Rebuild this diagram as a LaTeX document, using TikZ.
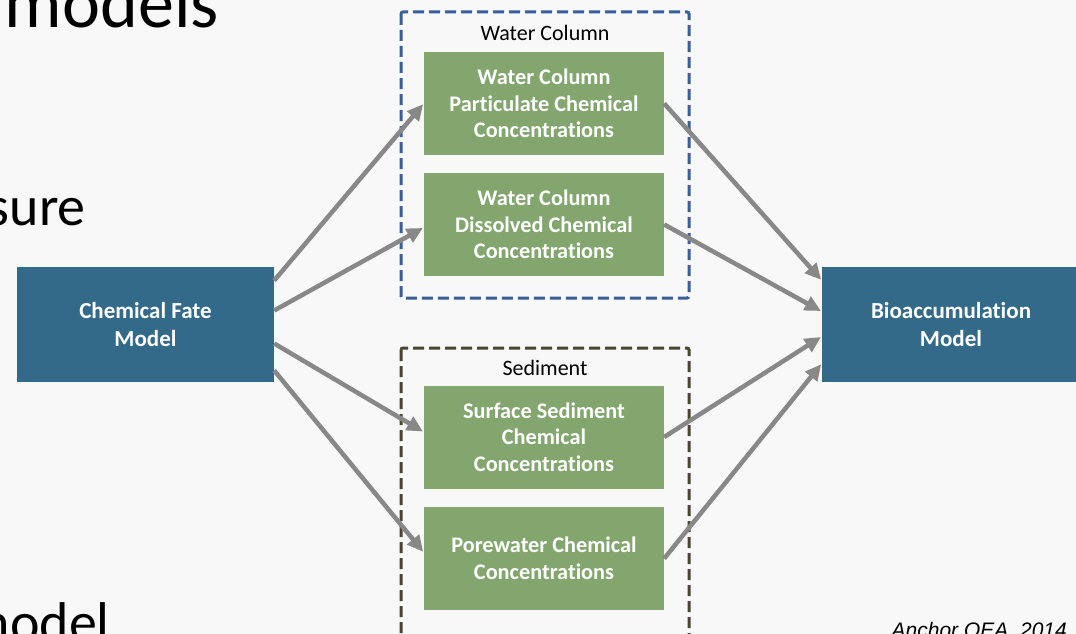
\documentclass[tikz,border=0pt]{standalone}
\usepackage{fontspec}
\setmainfont{Carlito}[Ligatures=NoCommon]
\newfontfamily\citefont{Liberation Sans}
\usetikzlibrary{arrows.meta,calc}

\definecolor{pagebg}{HTML}{F8F8F8}
\definecolor{modelblue}{HTML}{336A89}
\definecolor{conc}{HTML}{82A66E}
\definecolor{flowgray}{HTML}{888888}
\definecolor{waterdash}{HTML}{3A5F98}
\definecolor{seddash}{HTML}{4A4430}

\tikzset{
  modelbox/.style={fill=modelblue, draw=none, text=white, font=\fontsize{23}{28}\selectfont\bfseries,
    align=center, inner sep=0pt},
  concbox/.style={fill=conc, draw=none, text=white, font=\fontsize{22.3}{26.5}\selectfont\bfseries,
    align=center, inner sep=0pt, minimum width=240pt, minimum height=103pt},
  groupbox/.style={line width=3pt, dash pattern=on 11pt off 5pt, rounded corners=2pt},
  grouplabel/.style={font=\fontsize{22}{26}\selectfont, text=black, inner sep=0pt},
  flow/.style={draw=flowgray, line width=4.5pt, -{Triangle[length=16pt,width=15pt]}, shorten >=1pt},
  slidetext/.style={font=\fontsize{56}{60}\selectfont, text=black, inner sep=0pt},
}

\begin{document}
\begin{tikzpicture}[x=1pt,y=-1pt]
  \fill[pagebg] (0,0) rectangle (1076,634);
  \useasboundingbox (0,0) rectangle (1076,634);
  \begin{scope}
  \clip (0,0) rectangle (1076,634);

  % slide text around the diagram
  \node[slidetext, font=\fontsize{72}{76}\selectfont, anchor=base east] (title) at (219,28) {models};
  \node[slidetext, anchor=base east] (bulletA) at (86,225) {sure};
  \node[slidetext, anchor=base east] (bulletB) at (110,641) {nodel};

  % group frames
  \draw[groupbox, waterdash] (401,12) rectangle (689,298);
  \node[grouplabel] (wclabel) at (545,33) {Water Column};
  \draw[groupbox, seddash] (401,348) rectangle (689,650);
  \node[grouplabel] (sedlabel) at (545,368) {Sediment};

  % models
  \node[modelbox, minimum width=257pt, minimum height=115pt] (fate) at (145.5,324.5)
    {Chemical Fate\\Model};
  \node[modelbox, minimum width=258pt, minimum height=115pt] (bio) at (951,324.5)
    {Bioaccumulation\\Model};

  % concentration boxes
  \node[concbox] (part) at (544,103.5) {Water Column\\Particulate Chemical\\Concentrations};
  \node[concbox] (diss) at (544,224.5) {Water Column\\Dissolved Chemical\\Concentrations};
  \node[concbox] (surf) at (544,437) {Surface Sediment\\Chemical\\Concentrations};
  \node[concbox] (pore) at (544,558.5) {Porewater Chemical\\Concentrations};

  % fate model feeds each concentration
  \draw[flow] ([yshift=44pt]fate.east) -- (part.west);
  \draw[flow] ([yshift=14pt]fate.east) -- ([yshift=-3pt]diss.west);
  \draw[flow] ([yshift=-19pt]fate.east) -- ([yshift=5pt]surf.west);
  \draw[flow] ([yshift=-46pt]fate.east) -- ([yshift=6pt]pore.west);

  % concentrations feed the bioaccumulation model
  \draw[flow] (part.east) -- ([yshift=44pt]bio.west);
  \draw[flow] (diss.east) -- ([yshift=13pt]bio.west);
  \draw[flow] (surf.east) -- ([yshift=-12pt]bio.west);
  \draw[flow] (pore.east) -- ([yshift=-39pt]bio.west);

  % source
  \node[font=\citefont\itshape\fontsize{21}{24}\selectfont, anchor=base east, inner sep=0pt] (cite)
    at (1067,637) {Anchor QEA, 2014};
  \end{scope}
\end{tikzpicture}
\end{document}
